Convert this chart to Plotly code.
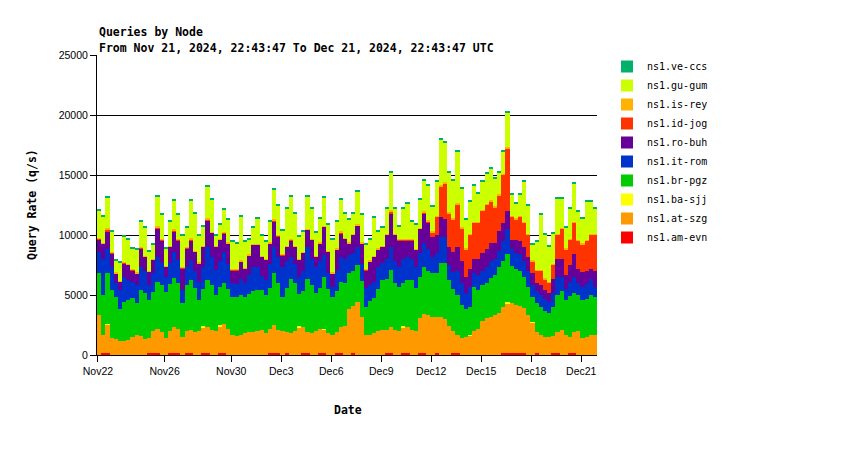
import pandas as pd
import plotly.graph_objects as go

# 6-hour sample periods from Nov 21, 2024 22:43:47 UTC (120 periods = 30 days)
period_start = pd.date_range("2024-11-21 22:43:47", periods=120, freq="6h")
period_mid = period_start + pd.Timedelta(hours=3)

tick_dates = ["2024-11-22", "2024-11-26", "2024-11-30", "2024-12-03", "2024-12-06",
              "2024-12-09", "2024-12-12", "2024-12-15", "2024-12-18", "2024-12-21"]
tick_labels = ["Nov22", "Nov26", "Nov30", "Dec3", "Dec6", "Dec9", "Dec12", "Dec15", "Dec18", "Dec21"]
y_ticks = [0, 5000, 10000, 15000, 20000, 25000]

am_evn = [0, 200, 200, 0, 0, 0, 0, 0, 0, 0,
          0, 0, 200, 200, 200, 0, 0, 200, 200, 200,
          0, 200, 200, 0, 0, 200, 200, 0, 0, 200,
          200, 0, 0, 0, 0, 0, 0, 0, 0, 0,
          0, 200, 200, 200, 0, 200, 0, 0, 0, 200,
          200, 0, 0, 200, 200, 0, 0, 200, 200, 0,
          0, 200, 0, 0, 0, 0, 0, 0, 0, 200,
          200, 0, 0, 200, 200, 0, 0, 200, 200, 0,
          0, 200, 0, 0, 0, 200, 200, 0, 0, 0,
          0, 0, 0, 0, 0, 0, 0, 200, 200, 200,
          200, 200, 200, 0, 0, 200, 0, 0, 0, 200,
          200, 0, 0, 200, 200, 0, 0, 0, 0, 0]

at_szg = [3300, 1500, 2300, 1450, 1300, 1200, 1200, 1250, 1500, 1650,
          1600, 1300, 1200, 1800, 1950, 1900, 1400, 1800, 2100, 2000,
          1500, 1800, 1900, 1900, 2000, 2100, 2100, 2100, 2000, 2200,
          2400, 2200, 1700, 1600, 1700, 1800, 1900, 1950, 2000, 2100,
          1800, 2000, 2300, 1900, 2000, 1700, 1800, 2000, 2300, 2100,
          1700, 1800, 2000, 2000, 1900, 1800, 1700, 1700, 2100, 2400,
          3800, 3900, 4400, 3200, 1700, 1700, 1800, 2000, 2100, 1900,
          2100, 2100, 2000, 2100, 2100, 2100, 2000, 2900, 3200, 3300,
          3200, 3000, 3200, 3000, 2400, 1800, 1500, 1400, 1500, 1600,
          2000, 2200, 2800, 3100, 3200, 3300, 3500, 3800, 4100, 4100,
          4000, 3900, 3700, 3300, 2700, 1700, 1700, 1500, 1500, 1400,
          1700, 2100, 1700, 1300, 1700, 2000, 1400, 1500, 1700, 1700]

ba_sjj = [0, 0, 80, 0, 0, 0, 0, 0, 0, 0,
          0, 0, 0, 0, 0, 0, 0, 0, 0, 0,
          0, 0, 0, 0, 0, 80, 0, 0, 0, 80,
          0, 0, 0, 0, 0, 0, 0, 0, 0, 0,
          0, 0, 0, 0, 0, 0, 0, 0, 80, 0,
          0, 0, 0, 0, 80, 0, 0, 0, 0, 0,
          0, 0, 0, 0, 0, 0, 0, 0, 0, 0,
          0, 0, 0, 80, 0, 0, 0, 0, 0, 0,
          0, 0, 0, 0, 0, 0, 0, 0, 0, 80,
          0, 0, 0, 0, 0, 0, 0, 0, 80, 0,
          0, 0, 0, 0, 80, 0, 0, 0, 0, 0,
          0, 0, 0, 0, 0, 0, 0, 0, 0, 0]

br_pgz = [3500, 3300, 4270, 3950, 3560, 2600, 3240, 3330, 3220, 2650,
          3800, 3900, 3180, 3280, 3950, 3930, 3880, 3900, 4090, 3770,
          2800, 3800, 4150, 3700, 2580, 3120, 3950, 3700, 3000, 3220,
          3370, 3300, 3160, 3260, 3300, 3060, 3200, 3350, 3420, 3320,
          3200, 3400, 4300, 3900, 2860, 3700, 4500, 4000, 2720, 3000,
          4400, 4000, 3140, 3400, 4350, 3700, 3160, 3400, 3810, 3600,
          3000, 2900, 3100, 3000, 2330, 2800, 2920, 3500, 4150, 4200,
          4780, 3900, 3700, 3620, 3950, 4150, 3560, 3400, 3960, 3700,
          3600, 3600, 4440, 4640, 3850, 3500, 3300, 2800, 2300, 2320,
          3700, 3200, 3000, 2900, 3200, 3400, 3800, 3800, 4020, 3100,
          3000, 2900, 2600, 2400, 2020, 2400, 2300, 2200, 2000, 2400,
          3100, 3200, 2900, 3400, 3300, 3000, 3200, 3200, 3300, 3100]

it_rom = [1800, 3000, 2000, 1960, 1110, 1620, 2090, 1670, 1380, 1530,
          1960, 1800, 1250, 1520, 2100, 1810, 1250, 1740, 2210, 1950,
          1120, 1500, 1670, 1400, 1520, 1800, 2750, 2400, 2080, 2100,
          2630, 2100, 1140, 1040, 1300, 1140, 1600, 2060, 1940, 1180,
          1250, 2000, 2230, 2200, 2500, 2200, 1900, 1600, 1430, 1700,
          2730, 2200, 2220, 2200, 1800, 1300, 840, 1700, 2090, 2000,
          1500, 1500, 1500, 1400, 1530, 1300, 1380, 1800, 1390, 1700,
          1950, 1800, 1660, 2000, 1950, 1750, 1800, 2000, 1940, 1800,
          1400, 1700, 2160, 2160, 1250, 1400, 2000, 1800, 1400, 1700,
          1100, 1300, 1200, 1300, 1400, 1300, 1400, 1700, 2100, 1400,
          1300, 1400, 1300, 1300, 1000, 1000, 1000, 1000, 900, 1200,
          1500, 1200, 900, 1200, 1300, 1000, 1100, 1200, 1300, 900]

ro_buh = [1040, 1250, 1400, 1110, 830, 680, 1110, 1250, 980, 970,
          1540, 1200, 1120, 1120, 2360, 1940, 830, 1390, 1680, 1660,
          1800, 1600, 1660, 1600, 1540, 1700, 2200, 2000, 1950, 1800,
          1540, 1700, 1080, 1180, 1500, 1200, 1600, 1810, 1810, 1600,
          1670, 1700, 2070, 1700, 970, 1200, 1380, 1400, 1390, 1500,
          1390, 1600, 840, 1500, 2370, 1800, 1100, 1800, 1940, 1700,
          1000, 1500, 1800, 1700, 1520, 2000, 2100, 1500, 1390, 2000,
          2770, 2200, 2220, 1580, 1380, 1580, 1390, 2000, 2500, 2200,
          1600, 1500, 1700, 1500, 1500, 1700, 2000, 1800, 1330, 1500,
          1200, 1300, 1500, 1500, 1500, 1300, 1600, 1500, 1500, 800,
          1100, 1100, 1200, 1200, 1000, 700, 800, 700, 800, 1100,
          1500, 1500, 1200, 1400, 1900, 1200, 1200, 1100, 900, 1300]

id_jog = [30, 30, 200, 30, 20, 20, 30, 30, 20, 20,
          30, 30, 20, 20, 100, 30, 20, 30, 80, 30,
          30, 30, 80, 30, 20, 30, 100, 30, 20, 30,
          30, 30, 20, 20, 30, 20, 20, 30, 30, 20,
          20, 30, 100, 30, 20, 30, 30, 30, 20, 30,
          30, 30, 20, 30, 30, 30, 20, 30, 80, 30,
          30, 30, 30, 30, 20, 20, 30, 30, 30, 30,
          150, 30, 30, 30, 30, 30, 30, 30, 100, 150,
          400, 1500, 2500, 3000, 2800, 2700, 3500, 2700, 2220, 2800,
          3000, 3000, 3500, 3700, 3500, 3000, 3000, 4000, 5200, 1900,
          1700, 2000, 2000, 1800, 1000, 1000, 1200, 900, 800, 1200,
          2000, 2500, 2100, 2100, 2600, 2300, 2300, 2500, 2800, 3000]

is_rey = [60, 60, 100, 60, 60, 60, 60, 60, 60, 60,
          60, 60, 60, 60, 120, 60, 60, 60, 100, 60,
          60, 60, 100, 60, 60, 60, 120, 60, 60, 60,
          60, 60, 60, 60, 60, 60, 60, 60, 60, 60,
          60, 60, 120, 60, 60, 60, 60, 60, 60, 60,
          60, 60, 60, 60, 60, 60, 60, 60, 100, 60,
          60, 60, 60, 60, 60, 60, 60, 60, 60, 60,
          150, 60, 60, 60, 60, 60, 60, 60, 60, 60,
          100, 100, 150, 150, 150, 150, 150, 130, 130, 100,
          100, 100, 100, 100, 100, 100, 100, 100, 100, 100,
          100, 100, 100, 100, 100, 100, 100, 100, 100, 100,
          100, 100, 100, 100, 100, 100, 100, 100, 100, 100]

gu_gum = [2350, 2240, 2580, 1730, 1030, 1530, 2170, 2010, 1730, 1910,
          2100, 2300, 1610, 1190, 2400, 2000, 1450, 1970, 2420, 2000,
          2680, 1600, 3120, 3080, 2260, 1600, 2660, 2700, 870, 1200,
          1920, 1880, 2320, 2170, 3670, 2200, 1220, 1330, 2110, 1700,
          1480, 1750, 2460, 2490, 1970, 3110, 3520, 2700, 1880, 1700,
          2680, 2510, 1960, 1980, 2330, 2180, 2720, 2230, 2610, 2000,
          1880, 1730, 2730, 2280, 2020, 1720, 3130, 1400, 1520, 2110,
          3070, 2110, 1000, 2530, 2950, 1450, 2000, 2400, 2550, 2880,
          2080, 2870, 3820, 3220, 3220, 3120, 4320, 3240, 2400, 2650,
          3040, 2340, 2330, 2530, 2680, 2290, 1830, 1820, 2900, 1750,
          1250, 1750, 3330, 2390, 1280, 2360, 4570, 3620, 2950, 2560,
          2950, 2450, 1720, 2510, 3190, 2330, 2080, 3150, 2650, 2110]

ve_ccs = [120, 120, 120, 110, 110, 110, 120, 120, 110, 110,
          120, 120, 110, 110, 120, 120, 110, 120, 120, 120,
          120, 120, 120, 120, 110, 120, 120, 120, 110, 120,
          120, 120, 110, 110, 120, 110, 110, 120, 120, 110,
          110, 120, 120, 120, 110, 120, 120, 120, 110, 120,
          120, 120, 110, 120, 120, 120, 110, 120, 120, 120,
          120, 120, 120, 120, 110, 110, 120, 120, 120, 120,
          130, 120, 120, 120, 120, 120, 120, 120, 120, 120,
          120, 130, 130, 130, 130, 130, 130, 130, 120, 120,
          120, 120, 120, 120, 120, 120, 120, 120, 130, 120,
          120, 120, 120, 120, 110, 110, 120, 110, 110, 120,
          120, 120, 120, 120, 120, 120, 120, 120, 120, 120]

series = [
    ("ns1.am-evn", am_evn, "#FF0000"),
    ("ns1.at-szg", at_szg, "#FF9900"),
    ("ns1.ba-sjj", ba_sjj, "#FFFF00"),
    ("ns1.br-pgz", br_pgz, "#00CC00"),
    ("ns1.it-rom", it_rom, "#0033CC"),
    ("ns1.ro-buh", ro_buh, "#660099"),
    ("ns1.id-jog", id_jog, "#FF3300"),
    ("ns1.is-rey", is_rey, "#FFB300"),
    ("ns1.gu-gum", gu_gum, "#CCFF00"),
    ("ns1.ve-ccs", ve_ccs, "#00B06B"),
]

mono = "DejaVu Sans Mono"
fig = go.Figure()
for name, vals, color in series:
    fig.add_trace(go.Bar(
        x=period_mid, y=vals, name=name,
        width=6 * 3600 * 1000,
        marker=dict(color=color, line=dict(width=0)),
    ))

fig.update_layout(
    width=850, height=450,
    barmode="stack", bargap=0,
    paper_bgcolor="white", plot_bgcolor="white",
    margin=dict(l=89, r=261, t=47, b=103),
    showlegend=True,
    legend=dict(traceorder="reversed", x=1.02, xanchor="left", y=1.01, yanchor="top",
                font=dict(family=mono, size=10, color="black"),
                bgcolor="rgba(0,0,0,0)", itemwidth=30),
    xaxis=dict(
        type="date",
        range=["2024-11-21 22:43:47", "2024-12-21 22:43:47"],
        tickvals=tick_dates, ticktext=tick_labels,
        showgrid=False, showline=True, linecolor="black", linewidth=1,
        ticks="outside", ticklen=6, tickcolor="black",
        tickfont=dict(family="Liberation Sans", size=10.5, color="black"),
        zeroline=False,
    ),
    yaxis=dict(
        range=[0, 25000],
        tickvals=y_ticks, ticktext=[str(v) for v in y_ticks],
        showgrid=True, gridcolor="black", gridwidth=1,
        showline=True, linecolor="black", linewidth=1,
        ticks="outside", ticklen=6, tickcolor="black",
        tickfont=dict(family="Liberation Sans", size=10.5, color="black"),
        zeroline=False,
    ),
    annotations=[
        dict(text="<b>Queries by Node</b>", xref="paper", yref="paper",
             x=0, y=1 + 23 / 300, xanchor="left", yanchor="middle", showarrow=False,
             font=dict(family=mono, size=11.5, color="black")),
        dict(text="<b>From Nov 21, 2024, 22:43:47 To Dec 21, 2024, 22:43:47 UTC</b>",
             xref="paper", yref="paper",
             x=0, y=1 + 7 / 300, xanchor="left", yanchor="middle", showarrow=False,
             font=dict(family=mono, size=11.5, color="black")),
        dict(text="<b>Query Rate (q/s)</b>", xref="paper", yref="paper",
             x=(32 - 97) / 500, y=0.5, xanchor="center", yanchor="middle",
             textangle=-90, showarrow=False,
             font=dict(family=mono, size=11.5, color="black")),
        dict(text="<b>Date</b>", xref="paper", yref="paper",
             x=(348 - 97) / 500, y=(355 - 410) / 300, xanchor="center", yanchor="middle",
             showarrow=False, font=dict(family=mono, size=11.5, color="black")),
    ],
)

fig.write_html("out.html")
